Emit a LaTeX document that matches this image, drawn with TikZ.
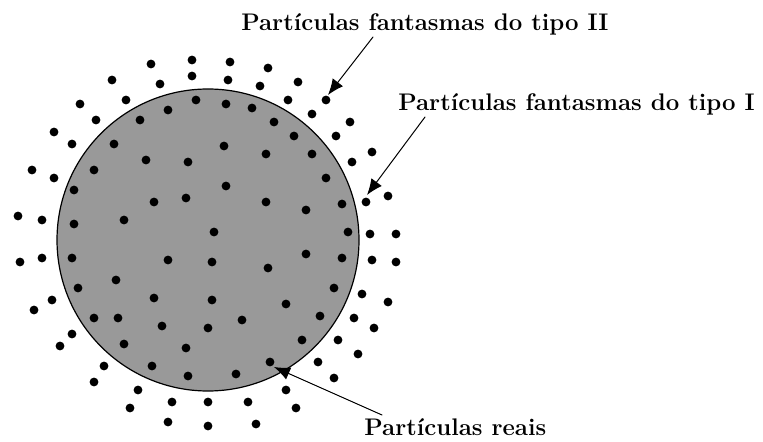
\documentclass[tikz,border=0pt]{standalone}
\usepackage{fontspec}
\usetikzlibrary{arrows.meta}

\tikzset{
  lbl/.style={inner sep=0pt, font=\large\bfseries, anchor=base west},
  pointer/.style={line width=0.5pt, -{Latex[length=8pt,width=6.5pt]}},
}

\begin{document}
\begin{tikzpicture}[x=0.5pt, y=-0.5pt, line cap=round, line join=round]

% ----------------- Parameters (pixel units) -----------------
\def\R{75.5pt}     % radius of the domain
\def\rdot{2.2pt}   % radius of a particle

\useasboundingbox (0,0) rectangle (763,442);

% Key points
\coordinate (O)     at (208,240);
\coordinate (tipII) at (328,95);
\coordinate (tipI)  at (367,195);
\coordinate (tipR)  at (274,367);

% ----------------- Domain -----------------
\draw[fill=black!40, line width=0.6pt] (O) circle (\R);

% ----------------- Particles -----------------
\foreach \x/\y in {151/64, 192/60, 192/76, 112/80, 160/84, 196/100, 80/104,
    126/100, 168/110, 96/120, 140/120, 54/132, 72/144, 114/144, 146/160,
    188/162, 32/170, 54/178, 94/170, 74/190, 154/202, 186/198, 18/216,
    42/220, 74/224, 124/220,
    230/62, 268/68, 228/80, 260/86, 298/82, 326/100, 226/104, 252/108,
    288/100, 274/122, 312/114, 350/122, 294/136, 336/136, 224/146, 266/154,
    312/154, 372/152, 352/162, 226/186, 326/178, 266/202, 306/210, 342/204,
    366/202, 388/196, 214/232, 348/232, 370/234, 396/234,
    20/262, 42/258, 72/258, 168/260, 116/280, 78/288, 52/300, 34/310,
    154/298, 94/318, 118/318, 162/326, 72/334, 60/346, 124/344, 186/348,
    104/366, 152/366, 188/376, 94/382, 138/390, 172/402, 130/408, 168/422,
    212/262, 306/254, 342/258, 372/260, 396/262, 268/268, 334/288, 362/294,
    388/302, 212/300, 286/304, 320/316, 354/318, 374/328, 208/328, 242/320,
    302/340, 338/340, 358/354, 318/362, 270/362, 334/378, 236/374, 286/390,
    208/402, 248/402, 296/408, 208/426, 256/424}
  \fill (\x,\y) circle (\rdot);

% ----------------- Labels -----------------
\node[lbl] (lblII) at (241,31)  {Partículas fantasmas do tipo II};
\node[lbl] (lblI)  at (398,111) {Partículas fantasmas do tipo I};
\node[lbl] (lblR)  at (364,435) {Partículas reais};

\coordinate (tailII) at (373,37);
\coordinate (tailI)  at (425,117);
\coordinate (tailR)  at (382,415);

% ----------------- Arrows -----------------
\draw[pointer] (tailII) -- (tipII);
\draw[pointer] (tailI) -- (tipI);
\draw[pointer] (tailR) -- (tipR);

\end{tikzpicture}
\end{document}
